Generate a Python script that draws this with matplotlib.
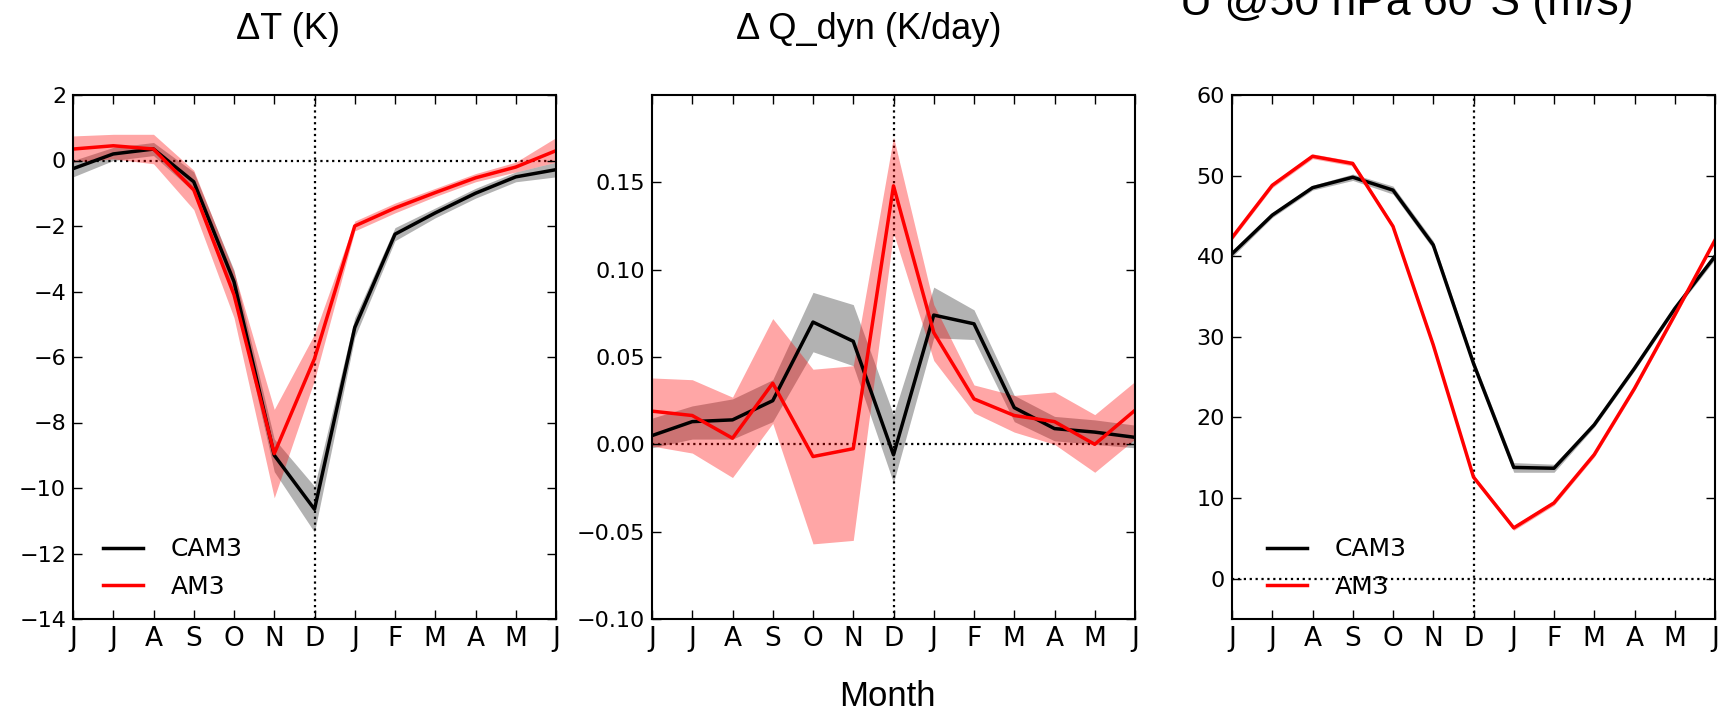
import matplotlib
matplotlib.use("Agg")
import matplotlib.pyplot as plt
import numpy as np

months = ["J", "J", "A", "S", "O", "N", "D", "J", "F", "M", "A", "M", "J"]

# Panel 1: Delta T (K)
cam_T = [-0.25, 0.2, 0.35, -0.65, -3.7, -9.0, -10.65, -5.1, -2.25, -1.6, -1.0, -0.5, -0.28]
cam_T_lo = [-0.5, 0.0, 0.15, -0.95, -4.05, -9.5, -11.35, -5.4, -2.45, -1.75, -1.15, -0.65, -0.5]
cam_T_hi = [0.0, 0.4, 0.55, -0.35, -3.35, -8.5, -9.95, -4.8, -2.05, -1.45, -0.85, -0.35, -0.05]
am_T = [0.35, 0.45, 0.35, -0.9, -4.1, -8.95, -6.05, -2.0, -1.45, -0.98, -0.53, -0.2, 0.3]
am_T_lo = [-0.05, 0.05, -0.1, -1.5, -4.8, -10.3, -6.7, -2.15, -1.6, -1.1, -0.65, -0.35, -0.05]
am_T_hi = [0.75, 0.8, 0.8, -0.3, -3.4, -7.6, -5.3, -1.85, -1.3, -0.85, -0.4, -0.05, 0.7]

# Panel 2: Delta Q_dyn (K/day)
cam_Q = [0.005, 0.013, 0.014, 0.025, 0.070, 0.059, -0.006, 0.074, 0.069, 0.021, 0.009, 0.007, 0.004]
cam_Q_lo = [-0.002, 0.003, 0.003, 0.013, 0.053, 0.045, -0.022, 0.061, 0.060, 0.013, 0.002, 0.000, -0.002]
cam_Q_hi = [0.015, 0.022, 0.026, 0.037, 0.087, 0.080, 0.017, 0.090, 0.077, 0.028, 0.016, 0.014, 0.011]
am_Q = [0.019, 0.0165, 0.0035, 0.035, -0.007, -0.0025, 0.148, 0.064, 0.026, 0.0165, 0.013, 0.000, 0.0195]
am_Q_lo = [-0.001, -0.005, -0.019, 0.012, -0.057, -0.055, 0.121, 0.048, 0.018, 0.007, 0.000, -0.016, 0.003]
am_Q_hi = [0.038, 0.037, 0.027, 0.072, 0.043, 0.045, 0.176, 0.080, 0.034, 0.028, 0.030, 0.017, 0.036]

# Panel 3: U @50 hPa 60S (m/s)
cam_U = [40.3, 45.1, 48.5, 49.8, 48.2, 41.4, 26.7, 13.8, 13.7, 19.1, 26.1, 33.5, 40.0]
cam_U_lo = [39.9, 44.8, 48.2, 49.4, 47.7, 40.9, 26.2, 13.2, 13.2, 18.8, 25.8, 33.2, 39.6]
cam_U_hi = [40.7, 45.4, 48.8, 50.2, 48.7, 41.9, 27.2, 14.4, 14.2, 19.4, 26.4, 33.8, 40.4]
am_U = [42.3, 48.8, 52.4, 51.5, 43.7, 29.0, 12.6, 6.3, 9.4, 15.4, 23.6, 32.7, 42.0]
am_U_lo = [42.0, 48.5, 52.1, 51.2, 43.4, 28.7, 12.3, 6.0, 9.1, 15.1, 23.3, 32.4, 41.7]
am_U_hi = [42.6, 49.1, 52.7, 51.8, 44.0, 29.3, 12.9, 6.6, 9.7, 15.7, 23.9, 33.0, 42.3]

titles = ["\u0394T (K)", "\u0394 Q_dyn (K/day)", "U @50 hPa 60\u00b0S (m/s)"]

fig = plt.figure(figsize=(17.22, 7.13), dpi=100)
W, H = 1722.0, 713.0
lefts = [73, 652, 1232]
ax_w = 483
ax_top, ax_bot = 95, 619

panels = [
    (cam_T, cam_T_lo, cam_T_hi, am_T, am_T_lo, am_T_hi, (-14, 2), np.arange(-14, 3, 2), "%d"),
    (cam_Q, cam_Q_lo, cam_Q_hi, am_Q, am_Q_lo, am_Q_hi, (-0.10, 0.20), np.arange(-0.10, 0.16, 0.05), "%.2f"),
    (cam_U, cam_U_lo, cam_U_hi, am_U, am_U_lo, am_U_hi, (-5, 60), np.arange(0, 61, 10), "%d"),
]

x = np.arange(len(months))
axes = []
for i, (c, clo, chi, a, alo, ahi, ylim, yt, fmt) in enumerate(panels):
    ax = fig.add_axes([lefts[i] / W, (H - ax_bot) / H, ax_w / W, (ax_bot - ax_top) / H])
    axes.append(ax)
    ax.fill_between(x, clo, chi, color="black", alpha=0.3, lw=0)
    ax.fill_between(x, alo, ahi, color="red", alpha=0.35, lw=0)
    ax.plot(x, c, color="black", lw=2.5, label="CAM3")
    ax.plot(x, a, color="red", lw=2.5, label="AM3")
    ax.axhline(0, color="black", ls=":", lw=1.6, zorder=0.5)
    ax.axvline(6, color="black", ls=":", lw=1.6, zorder=0.5)
    ax.set_xlim(0, 12)
    ax.set_ylim(*ylim)
    ax.set_xticks(x)
    ax.set_xticklabels(months, fontsize=19, family="DejaVu Sans")
    ax.set_yticks(yt)
    ax.set_yticklabels([(fmt % v).replace("-", "\u2212") for v in yt], fontsize=16, family="DejaVu Sans")
    ax.tick_params(direction="in", top=True, right=True, length=6.5, width=1.0, color="black")
    ax.tick_params(axis="x", pad=5)
    ax.tick_params(axis="y", pad=5)
    for s in ax.spines.values():
        s.set_linewidth(1.5)

leg_pos = {0: (0.041, 0.019), 2: (0.052, 0.019)}
for i, pos in leg_pos.items():
    axes[i].legend(loc="lower left", bbox_to_anchor=pos, borderaxespad=0, frameon=False,
                   handlelength=1.6, handletextpad=1.1, labelspacing=0.55,
                   prop={"family": "DejaVu Sans", "size": 18})

fig.text(287.5 / W, 1 - 39 / H, titles[0], ha="center", va="baseline",
         fontsize=26, family="Liberation Sans")
fig.text(869 / W, 1 - 39 / H, titles[1], ha="center", va="baseline",
         fontsize=26, family="Liberation Sans")
fig.text(1407 / W, 1 - 15 / H, titles[2], ha="center", va="baseline",
         fontsize=32, family="Liberation Sans")
fig.text(887 / W, 1 - 706 / H, "Month", ha="center", va="baseline",
         fontsize=25, family="Liberation Sans")

fig.savefig("out.png", dpi=100)
